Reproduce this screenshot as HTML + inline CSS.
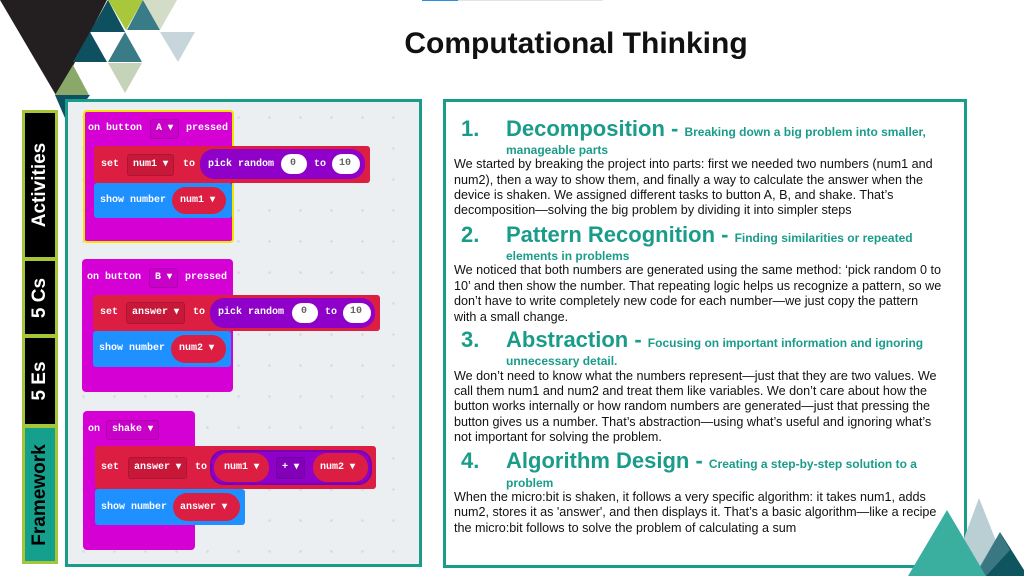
<!DOCTYPE html>
<html><head><meta charset="utf-8"><style>
*{margin:0;padding:0;box-sizing:border-box}
body{width:1024px;height:576px;overflow:hidden;background:#fff;position:relative;font-family:"Liberation Sans",sans-serif}
.a{position:absolute}
.title{left:0;width:1152px;top:27px;text-align:center;font-weight:bold;font-size:30px;color:#111}
.tab{position:absolute;left:22px;width:36px;border:3px solid #a6c638;background:#000;color:#fff;font-weight:bold;font-size:19px}
.tab span{position:absolute;left:50%;top:50%;transform:translate(-50%,-50%) rotate(-90deg);white-space:nowrap}
.panel{border:3px solid #1a9c8a}
.blk{position:absolute;font-family:"Liberation Mono",monospace;font-weight:bold;font-size:10px;color:#fff}
.hat{background:#d400d4;border-radius:4px}
.set{background:#dc1e42;border-radius:3px}
.show{background:#1e90ff;border-radius:3px}
.t{position:absolute;white-space:nowrap;line-height:14px}
.pill{position:absolute;border-radius:14px;white-space:nowrap;line-height:14px}
.dd{position:absolute;border-radius:3px;white-space:nowrap;line-height:14px;border:1px solid rgba(0,0,0,.12)}
.h{position:absolute;color:#1a9c8a;font-weight:bold;font-size:22px;white-space:nowrap;line-height:24px}
.h small{font-size:12px}
.sub{position:absolute;left:506px;color:#1a9c8a;font-weight:bold;font-size:12px;white-space:nowrap}
.b{position:absolute;left:454px;font-size:12.6px;color:#111;white-space:nowrap;line-height:15px}
</style></head><body>
<svg class="a" style="left:0;top:0" width="200" height="130">
<polygon points="0,0 107,0 57,97" fill="#231f20"/>
<polygon points="55,95 90,95 68,125" fill="#0f5060"/>
<polygon points="55,95 89,95 73,65" fill="#8aa86a"/>
<polygon points="108,0 143,0 126,30" fill="#a8c73a"/>
<polygon points="90,32 125,32 108,0" fill="#0f5060"/>
<polygon points="127,30 160,30 143,0" fill="#3a7b88"/>
<polygon points="143,0 177,0 160,30" fill="#d3dcc6"/>
<polygon points="160,32 195,32 178,62" fill="#c6d6db"/>
<polygon points="73,62 107,62 90,32" fill="#0f5060"/>
<polygon points="108,62 142,62 125,32" fill="#3a7b88"/>
<polygon points="108,63 142,63 125,93" fill="#c5d4b8"/>
</svg>
<div class="a" style="left:422px;top:0;width:36px;height:1px;background:#2d8fe0"></div>
<div class="a" style="left:458px;top:0;width:145px;height:1px;background:#e3e3e3"></div>
<div class="a title">Computational Thinking</div>

<div class="tab" style="top:110px;height:150px"><span>Activities</span></div>
<div class="tab" style="top:258px;height:79px"><span>5 Cs</span></div>
<div class="tab" style="top:335px;height:92px"><span>5 Es</span></div>
<div class="tab" style="top:425px;height:139px;background:#14a08c;color:#000"><span>Framework</span></div>

<div class="a panel" style="left:65px;top:99px;width:357px;height:468px;background-color:#eceff1;background-image:radial-gradient(circle,#d6dadd 1px,transparent 1.5px);background-size:31px 31px"></div>

<!-- block 1 -->
<div class="blk hat" style="left:83px;top:110px;width:151px;height:133px;border:2px solid #f4e500"></div>
<div class="blk" style="left:88px;top:118px"><span class="t" style="left:0;top:4px">on button</span><span class="dd" style="left:62px;top:1px;padding:2px 5px;background:#c800c8">A ▾</span><span class="t" style="left:98px;top:4px">pressed</span></div>
<div class="blk set" style="left:94px;top:146px;width:276px;height:37px"></div>
<div class="blk" style="left:94px;top:146px;width:276px"><span class="t" style="left:7px;top:12px">set</span><span class="dd" style="left:33px;top:8px;padding:3px 5px;background:#c8183a">num1 ▾</span><span class="t" style="left:89px;top:12px">to</span>
<span class="pill" style="left:106px;top:3px;width:165px;height:30px;background:#8f00c8"></span><span class="t" style="left:114px;top:12px">pick random</span><span class="pill" style="left:187px;top:8px;width:26px;height:20px;background:#fff"></span><span class="t" style="left:196px;top:11px;color:#666">0</span><span class="t" style="left:220px;top:12px">to</span><span class="pill" style="left:238px;top:8px;width:28px;height:20px;background:#fff"></span><span class="t" style="left:245px;top:11px;color:#666">10</span></div>
<div class="blk show" style="left:94px;top:183px;width:138px;height:35px"></div>
<div class="blk" style="left:94px;top:183px"><span class="t" style="left:6px;top:11px">show number</span><span class="pill" style="left:78px;top:4px;width:54px;height:27px;background:#dc1e42"></span><span class="t" style="left:86px;top:11px">num1 ▾</span></div>

<!-- block 2 -->
<div class="blk hat" style="left:82px;top:259px;width:151px;height:133px"></div>
<div class="blk" style="left:87px;top:266px"><span class="t" style="left:0;top:5px">on button</span><span class="dd" style="left:62px;top:2px;padding:2px 5px;background:#c800c8">B ▾</span><span class="t" style="left:98px;top:5px">pressed</span></div>
<div class="blk set" style="left:93px;top:295px;width:287px;height:36px"></div>
<div class="blk" style="left:93px;top:295px"><span class="t" style="left:7px;top:11px">set</span><span class="dd" style="left:33px;top:7px;padding:3px 5px;background:#c8183a">answer ▾</span><span class="t" style="left:100px;top:11px">to</span>
<span class="pill" style="left:117px;top:3px;width:165px;height:30px;background:#8f00c8"></span><span class="t" style="left:125px;top:11px">pick random</span><span class="pill" style="left:199px;top:8px;width:26px;height:20px;background:#fff"></span><span class="t" style="left:208px;top:10px;color:#666">0</span><span class="t" style="left:232px;top:11px">to</span><span class="pill" style="left:250px;top:8px;width:28px;height:20px;background:#fff"></span><span class="t" style="left:257px;top:10px;color:#666">10</span></div>
<div class="blk show" style="left:93px;top:331px;width:138px;height:36px"></div>
<div class="blk" style="left:93px;top:331px"><span class="t" style="left:6px;top:11px">show number</span><span class="pill" style="left:78px;top:4px;width:55px;height:28px;background:#dc1e42"></span><span class="t" style="left:86px;top:11px">num2 ▾</span></div>

<!-- block 3 -->
<div class="blk hat" style="left:83px;top:411px;width:112px;height:139px"></div>
<div class="blk" style="left:88px;top:418px"><span class="t" style="left:0;top:5px">on</span><span class="dd" style="left:18px;top:2px;padding:2px 5px;background:#c800c8">shake ▾</span></div>
<div class="blk set" style="left:95px;top:446px;width:281px;height:43px"></div>
<div class="blk" style="left:95px;top:446px"><span class="t" style="left:6px;top:15px">set</span><span class="dd" style="left:33px;top:11px;padding:3px 5px;background:#c8183a">answer ▾</span><span class="t" style="left:100px;top:15px">to</span>
<span class="pill" style="left:115px;top:4px;width:162px;height:35px;background:#8f00c8;border:2px solid #7a00b0"></span><span class="pill" style="left:119px;top:7px;width:55px;height:29px;background:#dc1e42"></span><span class="t" style="left:129px;top:15px">num1 ▾</span><span class="dd" style="left:181px;top:11px;padding:3px 5px;background:#8200b8">+ ▾</span><span class="pill" style="left:218px;top:7px;width:55px;height:29px;background:#dc1e42"></span><span class="t" style="left:225px;top:15px">num2 ▾</span></div>
<div class="blk show" style="left:95px;top:489px;width:150px;height:36px"></div>
<div class="blk" style="left:95px;top:489px"><span class="t" style="left:6px;top:12px">show number</span><span class="pill" style="left:78px;top:4px;width:67px;height:28px;background:#dc1e42"></span><span class="t" style="left:85px;top:12px">answer ▾</span></div>

<!-- text panel -->
<div class="a panel" style="left:443px;top:99px;width:524px;height:469px"></div>
<div class="h" style="left:461px;top:117px">1.</div><div class="h" style="left:506px;top:117px">Decomposition - <small>Breaking down a big problem into smaller,</small></div>
<div class="sub" style="top:143px">manageable parts</div>
<div class="b" style="top:157px">We started by breaking the project into parts: first we needed two numbers (num1 and</div>
<div class="b" style="top:173px">num2), then a way to show them, and finally a way to calculate the answer when the</div>
<div class="b" style="top:188px">device is shaken. We assigned different tasks to button A, B, and shake. That’s</div>
<div class="b" style="top:203px">decomposition—solving the big problem by dividing it into simpler steps</div>

<div class="h" style="left:461px;top:223px">2.</div><div class="h" style="left:506px;top:223px">Pattern Recognition - <small>Finding similarities or repeated</small></div>
<div class="sub" style="top:249px">elements in problems</div>
<div class="b" style="top:263px">We noticed that both numbers are generated using the same method: ‘pick random 0 to</div>
<div class="b" style="top:279px">10’ and then show the number. That repeating logic helps us recognize a pattern, so we</div>
<div class="b" style="top:294px">don’t have to write completely new code for each number—we just copy the pattern</div>
<div class="b" style="top:310px">with a small change.</div>

<div class="h" style="left:461px;top:328px">3.</div><div class="h" style="left:506px;top:328px">Abstraction - <small>Focusing on important information and ignoring</small></div>
<div class="sub" style="top:354px">unnecessary detail.</div>
<div class="b" style="top:369px">We don’t need to know what the numbers represent—just that they are two values. We</div>
<div class="b" style="top:384px">call them num1 and num2 and treat them like variables. We don’t care about how the</div>
<div class="b" style="top:399px">button works internally or how random numbers are generated—just that pressing the</div>
<div class="b" style="top:415px">button gives us a number. That’s abstraction—using what’s useful and ignoring what’s</div>
<div class="b" style="top:430px">not important for solving the problem.</div>

<div class="h" style="left:461px;top:449px">4.</div><div class="h" style="left:506px;top:449px">Algorithm Design - <small>Creating a step-by-step solution to a</small></div>
<div class="sub" style="top:476px">problem</div>
<div class="b" style="top:490px">When the micro:bit is shaken, it follows a very specific algorithm: it takes num1, adds</div>
<div class="b" style="top:505px">num2, stores it as 'answer', and then displays it. That’s a basic algorithm—like a recipe</div>
<div class="b" style="top:521px">the micro:bit follows to solve the problem of calculating a sum</div>

<svg class="a" style="left:900px;top:490px" width="124" height="86">
<polygon points="79,8 50,86 110,86" fill="#b9cfd4"/>
<polygon points="100,42 75,86 124,86 124,80" fill="#0f5560"/>
<polygon points="47,20 8,86 86,86" fill="#3aafa0"/>
<polygon points="86,86 80,76 100,42 110,60" fill="#55909a" opacity="0.6"/>
</svg>
</body></html>
